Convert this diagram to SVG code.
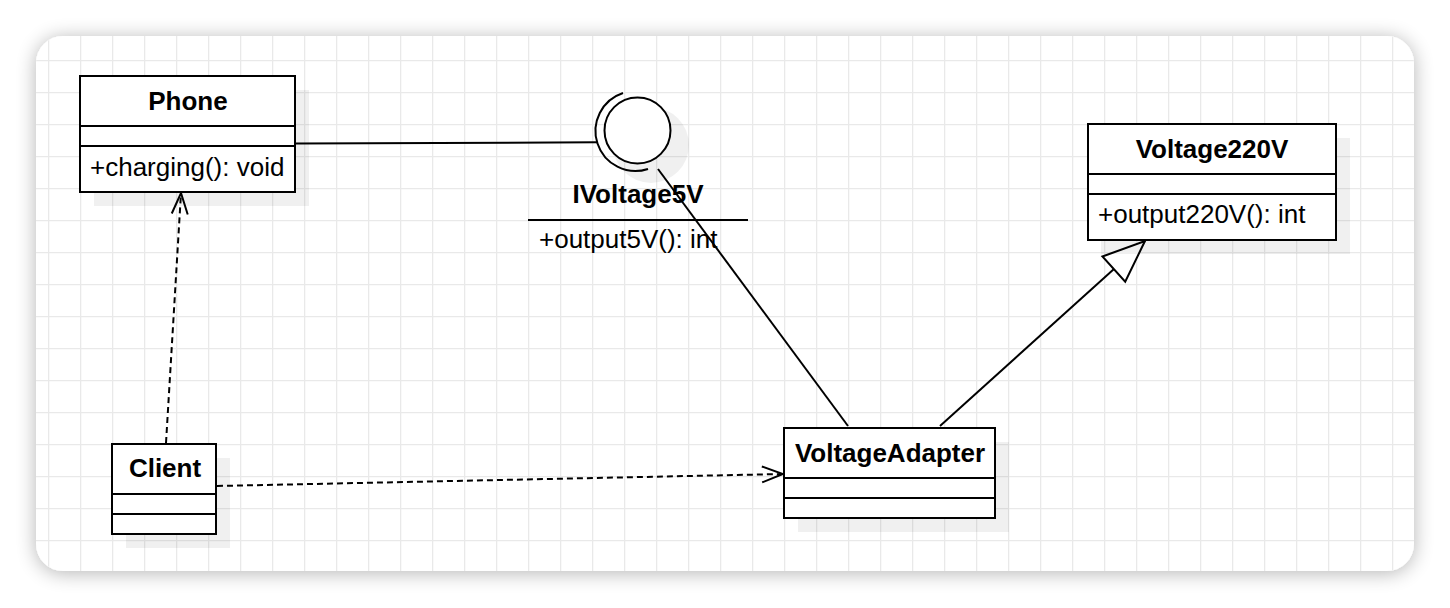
<svg xmlns="http://www.w3.org/2000/svg" width="1450" height="608" viewBox="0 0 1450 608">
  <defs>
    <filter id="cardShadow" x="-10%" y="-10%" width="120%" height="120%">
      <feGaussianBlur in="SourceAlpha" stdDeviation="10"/>
      <feOffset dx="0" dy="2" result="b"/>
      <feComponentTransfer><feFuncA type="linear" slope="0.3"/></feComponentTransfer>
      <feMerge><feMergeNode/><feMergeNode in="SourceGraphic"/></feMerge>
    </filter>
    <clipPath id="cardClip">
      <rect x="36" y="36" width="1378" height="535" rx="27" ry="27"/>
    </clipPath>
    <pattern id="grid" x="16" y="28" width="32" height="32" patternUnits="userSpaceOnUse">
      <path d="M0 0.5 H32 M0.5 0 V32" fill="none" stroke="#e9e9e9" stroke-width="1.6"/>
    </pattern>
    <marker id="openArrow" viewBox="0 0 24 20" refX="22" refY="10" markerWidth="24" markerHeight="20" markerUnits="userSpaceOnUse" orient="auto">
      <path d="M1 2 L22 10 L1 18" fill="none" stroke="#000" stroke-width="2"/>
    </marker>
    <marker id="hollowTri" viewBox="0 0 46 40" refX="44" refY="20" markerWidth="46" markerHeight="40" markerUnits="userSpaceOnUse" orient="auto">
      <path d="M2 3 L44 20 L2 37 Z" fill="#fff" stroke="#000" stroke-width="2"/>
    </marker>
  </defs>
  <style>
    .box { fill: #fff; stroke: #000; stroke-width: 2; }
    .div { stroke: #000; stroke-width: 2; fill: none; }
    .shadow { fill: #000; fill-opacity: 0.06; }
    .title { font-family: "Liberation Sans", Arial, sans-serif; font-weight: bold; font-size: 26px; fill: #000; text-anchor: middle; }
    .member { font-family: "Liberation Sans", Arial, sans-serif; font-size: 26px; fill: #000; }
    .edge { fill: none; stroke: #000; stroke-width: 2; }
    .dash { stroke-dasharray: 6 4; }
  </style>

  <rect x="0" y="0" width="1450" height="608" fill="#fff"/>
  <g id="card">
    <rect x="36" y="36" width="1378" height="535" rx="27" ry="27" fill="#fff" filter="url(#cardShadow)"/>
    <rect x="36" y="36" width="1378" height="535" fill="url(#grid)" clip-path="url(#cardClip)"/>
  </g>

  <g id="connectors">
    <line class="edge" x1="296" y1="143.5" x2="597" y2="142.3"/>
    <line class="edge" x1="658" y1="169" x2="848" y2="426"/>
    <line class="edge" x1="940" y1="426" x2="1145" y2="241" marker-end="url(#hollowTri)"/>
    <line class="edge dash" x1="166" y1="443" x2="181" y2="193" marker-end="url(#openArrow)"/>
    <line class="edge dash" x1="217" y1="486" x2="783" y2="474" marker-end="url(#openArrow)"/>
  </g>

  <g id="Phone">
    <rect class="shadow" x="94" y="90" width="215" height="116"/>
    <rect class="box" x="80" y="76" width="215" height="116"/>
    <line class="div" x1="80" y1="126" x2="296" y2="126"/>
    <line class="div" x1="80" y1="146" x2="296" y2="146"/>
    <text class="title" x="188" y="110">Phone</text>
    <text class="member" x="90" y="176">+charging(): void</text>
  </g>

  <g id="IVoltage5V">
    <circle class="shadow" cx="651" cy="145" r="38"/>
    <circle cx="637.5" cy="130.5" r="33" fill="#fff" stroke="#000" stroke-width="2"/>
    <path d="M623 93 A40 40 0 0 0 648 169" fill="none" stroke="#000" stroke-width="2"/>
    <text class="title" x="638" y="203">IVoltage5V</text>
    <line class="div" x1="528" y1="220" x2="748" y2="220"/>
    <text class="member" x="539" y="248">+output5V(): int</text>
  </g>

  <g id="Voltage220V">
    <rect class="shadow" x="1101" y="138" width="249" height="116"/>
    <rect class="box" x="1088" y="124" width="248" height="116"/>
    <line class="div" x1="1088" y1="174" x2="1337" y2="174"/>
    <line class="div" x1="1088" y1="194" x2="1337" y2="194"/>
    <text class="title" x="1212" y="158">Voltage220V</text>
    <text class="member" x="1098" y="223">+output220V(): int</text>
  </g>

  <g id="Client">
    <rect class="shadow" x="126" y="458" width="104" height="90"/>
    <rect class="box" x="112" y="444" width="104" height="90"/>
    <line class="div" x1="112" y1="494" x2="217" y2="494"/>
    <line class="div" x1="112" y1="514" x2="217" y2="514"/>
    <text class="title" x="165" y="477">Client</text>
  </g>

  <g id="VoltageAdapter">
    <rect class="shadow" x="798" y="442" width="211" height="90"/>
    <rect class="box" x="784" y="428" width="211" height="90"/>
    <line class="div" x1="784" y1="478" x2="996" y2="478"/>
    <line class="div" x1="784" y1="498" x2="996" y2="498"/>
    <text class="title" x="890" y="462">VoltageAdapter</text>
  </g>
</svg>
